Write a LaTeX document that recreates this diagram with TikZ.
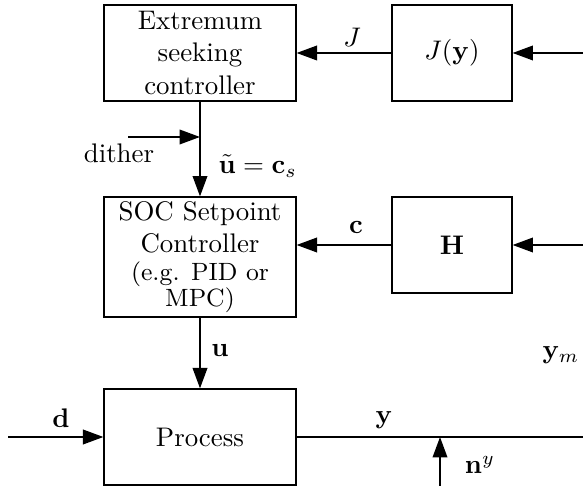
\documentclass[tikz,border=0pt]{standalone}
\usetikzlibrary{arrows.meta}
\begin{document}
\begin{tikzpicture}[x=0.372pt,y=-0.372pt,
  blk/.style={draw,line width=0.45pt,inner sep=0pt,align=center},
  wide/.style={minimum width=71.4pt},
  narrow/.style={minimum width=44.6pt},
  sig/.style={line width=0.75pt,-{Triangle[length=7.6pt,width=5.4pt]}},
  plain/.style={line width=0.75pt},
  lbl/.style={inner sep=0pt}]
\useasboundingbox (0,0) rectangle (583,488);
% blocks
\node[blk,wide,minimum height=35.7pt] (esc) at (200,53) {Extremum\\seeking\\controller};
\node[blk,narrow,minimum height=35.7pt] (J) at (452,53) {$J(\mathbf{y})$};
\node[blk,wide,minimum height=44.6pt] (soc) at (200,257) {SOC Setpoint\\Controller\\[-1.5pt]{\fontsize{9.3}{9.6}\selectfont (e.g. PID or}\\[-2.5pt]{\fontsize{9.3}{9.6}\selectfont MPC)}};
\node[blk,narrow,minimum height=35.7pt] (H) at (452,245) {$\mathbf{H}$};
\node[blk,wide,minimum height=35.7pt] (proc) at (200,437) {Process};
% free ends
\coordinate (jin) at (583,53);
\coordinate (hin) at (583,245);
\coordinate (dith) at (128,137);
\coordinate (dithj) at (200,137);
\coordinate (din) at (8,437);
\coordinate (yout) at (583,437);
\coordinate (nyin) at (440,486);
\coordinate (nyj) at (440,437);
% connectors
\draw[sig] (jin) -- (J.east);
\draw[sig] (J.west) -- (esc.east);
\draw[sig] (hin) -- (H.east);
\draw[sig] (H.west) -- (H.west -| soc.east);
\draw[sig] (esc.south) -- (soc.north);
\draw[sig] (dith) -- (dithj);
\draw[sig] (soc.south) -- (proc.north);
\draw[sig] (din) -- (proc.west);
\draw[plain] (proc.east) -- (yout);
\draw[sig] (nyin) -- (nyj);
% labels
\node[lbl] (lJ) at (352,37) {$J$};
\node[lbl] (lc) at (356,228) {$\mathbf{c}$};
\node[lbl,anchor=west] (lu) at (218,166) {$\tilde{\mathbf{u}}=\mathbf{c}_s$};
\node[lbl] (ldith) at (119,153) {dither};
\node[lbl] (luu) at (220,351) {$\mathbf{u}$};
\node[lbl] (ld) at (61,418) {$\mathbf{d}$};
\node[lbl] (ly) at (384,420) {$\mathbf{y}$};
\node[lbl] (lny) at (480,465) {$\mathbf{n}^y$};
\node[lbl,anchor=west] (lym) at (542,355) {$\mathbf{y}_m$};
\end{tikzpicture}
\end{document}
